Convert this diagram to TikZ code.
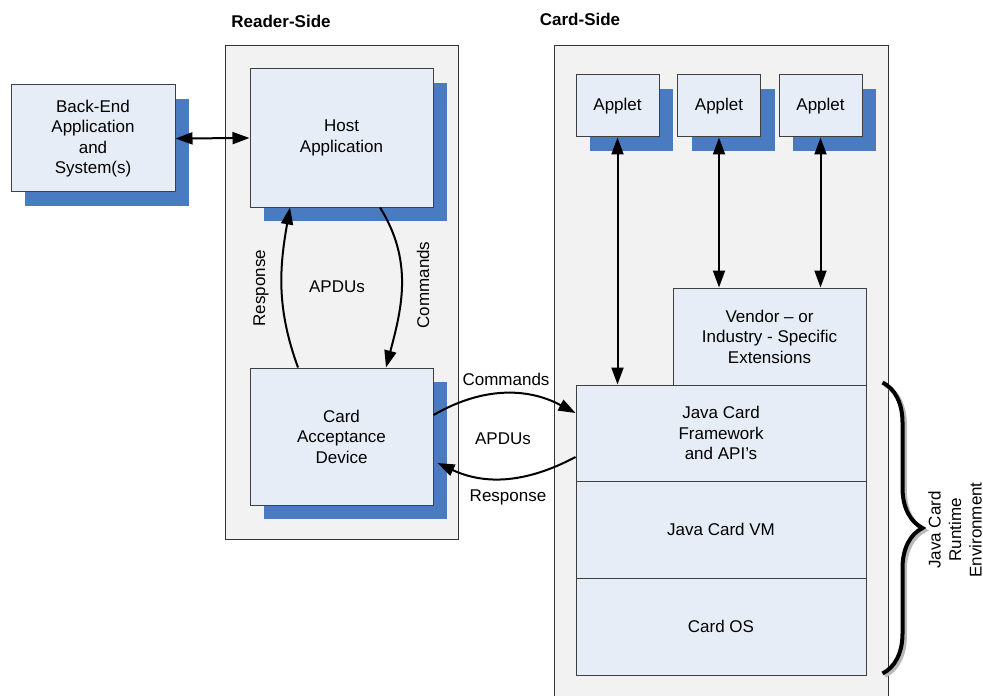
\documentclass[tikz,border=0pt]{standalone}
\usepackage{fontspec}
\setmainfont{Liberation Sans}
\usetikzlibrary{arrows.meta}
\usetikzlibrary{shadows}
\usetikzlibrary{decorations.pathreplacing}
\definecolor{boxfill}{RGB}{231,237,247}
\definecolor{boxline}{RGB}{64,64,64}
\definecolor{shadowblue}{RGB}{74,123,192}
\definecolor{panelfill}{RGB}{242,242,242}
\definecolor{panelline}{RGB}{50,50,50}
\tikzset{
  box/.style={draw=boxline, fill=boxfill, line width=0.5pt, align=center, inner sep=0pt},
  shadowbox/.style={box, drop shadow={shadow xshift=7pt, shadow yshift=-7pt, fill=shadowblue, opacity=1}},
  panel/.style={draw=panelline, fill=panelfill, line width=0.5pt},
  title/.style={font=\fontsize{8.5}{10.25}\selectfont\bfseries},
  link/.style={line width=1pt, -{Triangle[length=8.5pt,width=6pt]}},
  twoway/.style={line width=1pt, {Triangle[length=8.5pt,width=6pt]}-{Triangle[length=8.5pt,width=6pt]}},
  bracket/.style={line width=2pt, decorate, decoration={brace, amplitude=20pt}}
}
\begin{document}
\begin{tikzpicture}[x=0.5pt,y=-0.5pt,font=\fontsize{8.5}{10.25}\selectfont]
\useasboundingbox (0,0) rectangle (983,695);
% panels
\draw[panel] (225,46) rectangle (458,539);
\fill[panelfill] (554,46) rectangle (888,700);
\draw[panelline, line width=0.5pt] (554,700) -- (554,46) -- (888,46) -- (888,700);
\node[title] (readerlabel) at (281,21) {Reader-Side};
\node[title] (cardlabel) at (580,19) {Card-Side};
% reader side
\node[shadowbox, minimum width=82pt, minimum height=53.5pt] (backend) at (93,138.5) {Back-End\\Application\\and\\System(s)};
\node[shadowbox, minimum width=91.5pt, minimum height=69pt] (host) at (341.5,138) {Host\\Application};
\node[shadowbox, minimum width=91.5pt, minimum height=68.5pt] (cad) at (341.5,436.5) {Card\\Acceptance\\Device};
% card side
\node[shadowbox, minimum width=41.5pt, minimum height=31pt] (applet1) at (617.5,106) {Applet};
\node[shadowbox, minimum width=41.5pt, minimum height=31pt] (applet2) at (719,106) {Applet};
\node[shadowbox, minimum width=41.5pt, minimum height=31pt] (applet3) at (820.5,106) {Applet};
\node[box, minimum width=96.5pt, minimum height=48.5pt] (vendor) at (769.5,336.5) {Vendor -- or\\Industry - Specific\\Extensions};
\node[box, minimum width=145pt, minimum height=48pt] (jcf) at (721,433) {Java Card\\Framework\\and API's};
\node[box, minimum width=145pt, minimum height=48.5pt] (jcvm) at (721,529.5) {Java Card VM};
\node[box, minimum width=145pt, minimum height=48.5pt] (cardos) at (721,626.5) {Card OS};
% connectors
\draw[twoway] (backend.east) -- (host.west);
\draw[link] ([xshift=-21.75pt]cad.north) to[out=110, in=-100] ([xshift=-25.75pt]host.south);
\draw[link] ([xshift=19.25pt]host.south) to[out=-58, in=75] ([xshift=22.25pt]cad.north);
\draw[link] ([yshift=10.75pt]cad.east) to[out=30, in=152] ([yshift=10pt]jcf.west);
\draw[link] ([yshift=-12pt]jcf.west) to[out=-152, in=-25] ([xshift=2pt,yshift=-13.25pt]cad.east);
\draw[twoway] (applet1.south) -- (applet1.south |- jcf.north);
\draw[twoway] (applet2.south) -- (applet2.south |- vendor.north);
\draw[twoway] (applet3.south) -- (applet3.south |- vendor.north);
% labels
\node[rotate=90] (resplabel) at (261,288) {Response};
\node[rotate=90] (cmdlabel) at (423,285) {Commands};
\node (apdulabel) at (337,287) {APDUs};
\node (cmdlabel2) at (506,379) {Commands};
\node (apdulabel2) at (503,439) {APDUs};
\node (resplabel2) at (508,497) {Response};
% runtime brace
\coordinate (bracetop) at ([xshift=8pt,yshift=1pt]jcf.north east);
\coordinate (bracebot) at ([xshift=8pt,yshift=1pt]cardos.south east);
\draw[bracket, gray!55] ([shift={(1.2pt,-1.2pt)}]bracetop) -- ([shift={(1.2pt,-1.2pt)}]bracebot);
\draw[bracket] (bracetop) -- (bracebot);
\node[rotate=90, align=center] (jre) at (955,530) {Java Card\\Runtime\\Environment};
\end{tikzpicture}
\end{document}
